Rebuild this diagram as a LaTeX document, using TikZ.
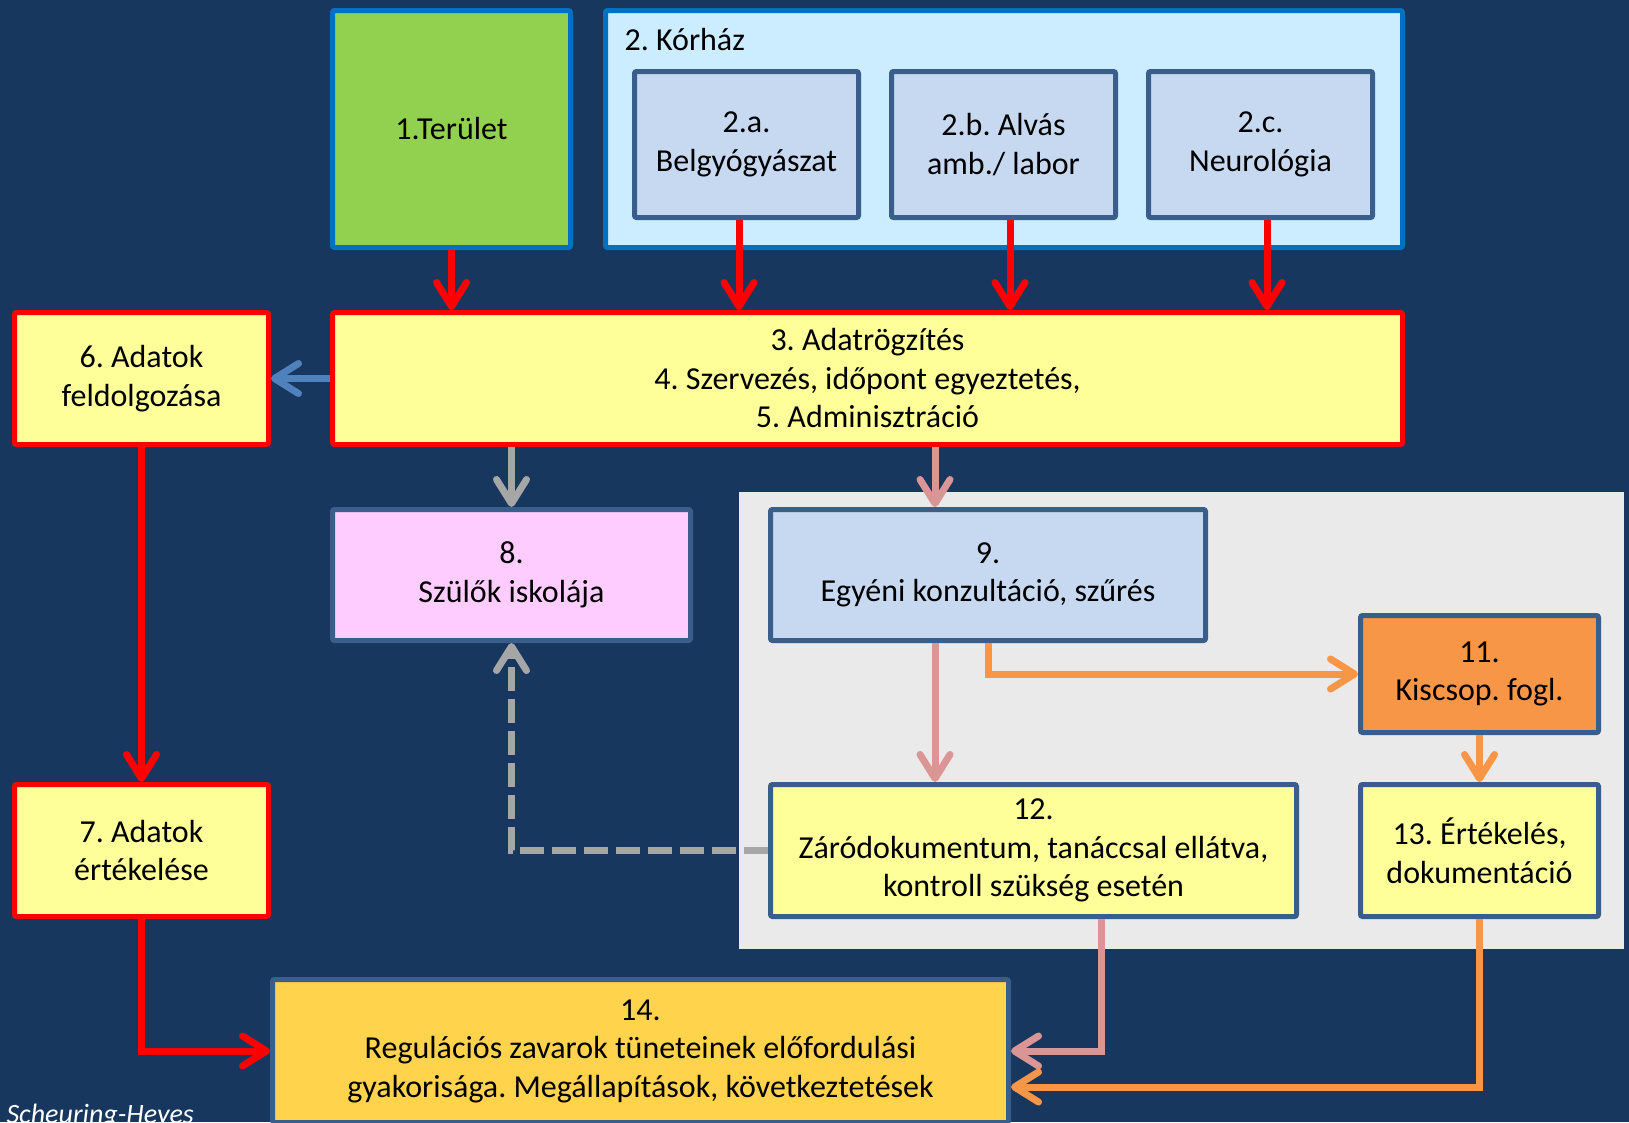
\documentclass[tikz,border=0pt]{standalone}
\usepackage{fontspec}
\setmainfont{Carlito}
\usetikzlibrary{arrows.meta}
\frenchspacing
\definecolor{bg}{HTML}{17375E}
\definecolor{cgreen}{HTML}{92D050}
\definecolor{cblueb}{HTML}{0070C0}
\definecolor{clight}{HTML}{CCECFF}
\definecolor{csub}{HTML}{C6D9F1}
\definecolor{cdark}{HTML}{3A5E8C}
\definecolor{cyellow}{HTML}{FFFF99}
\definecolor{cred}{HTML}{FF0000}
\definecolor{cpink}{HTML}{FFCCFF}
\definecolor{cpanel}{HTML}{EAEAEA}
\definecolor{corange}{HTML}{F79646}
\definecolor{cgold}{HTML}{FFD34B}
\definecolor{carrblue}{HTML}{4F81BD}
\definecolor{cgray}{HTML}{A6A6A6}
\definecolor{crose}{HTML}{D99694}
\tikzset{
  box/.style={rectangle, rounded corners=2pt, line width=5pt, align=center, inner sep=0pt, text=black},
  arr/.style={line width=7pt, -{Straight Barb[length=24pt,width=30pt,round]}},
  redarr/.style={arr, draw=cred},
  bluearr/.style={arr, draw=carrblue},
  grayarr/.style={arr, draw=cgray},
  rosearr/.style={arr, draw=crose},
  orarr/.style={arr, draw=corange},
}
\begin{document}
\begin{tikzpicture}[x=1pt,y=-1pt, font=\fontsize{32}{38.5}\selectfont\frenchspacing]
\useasboundingbox (0,0) rectangle (1629,1122);
\clip (0,0) rectangle (1629,1122);
\fill[bg] (0,0) rectangle (1629,1122);
\fill[cpanel] (739,492) rectangle (1624,949);

% boxes
\node[box, fill=cgreen, draw=cblueb, minimum width=238pt, minimum height=237pt] (n1) at (451.5,129) {1.Terület};
\node[box, fill=clight, draw=cblueb, minimum width=797pt, minimum height=237pt] (n2) at (1004,129) {};
\node[anchor=west, text=black] (n2t) at (621,40) {2. Kórház};
\node[box, fill=csub, draw=cdark, minimum width=224pt, minimum height=146pt] (n2a) at (746.5,144.5) {2.a.\\Belgyógyászat};
\node[box, fill=csub, draw=cdark, minimum width=224pt, minimum height=146pt] (n2b) at (1003.5,144.5) {2.b. Alvás\\amb./ labor};
\node[box, fill=csub, draw=cdark, minimum width=224pt, minimum height=146pt] (n2c) at (1260.5,144.5) {2.c.\\Neurológia};
\node[box, fill=cyellow, draw=cred, minimum width=1070pt, minimum height=132pt] (n3) at (867.5,378.5) {3. Adatrögzítés\\4. Szervezés, időpont egyeztetés,\\5. Adminisztráció};
\node[box, fill=cyellow, draw=cred, minimum width=254pt, minimum height=132pt] (n6) at (141.5,378.5) {6. Adatok\\feldolgozása};
\node[box, fill=cpink, draw=cdark, minimum width=358pt, minimum height=131pt] (n8) at (511.5,575) {8.\\Szülők iskolája};
\node[box, fill=csub, draw=cdark, minimum width=435pt, minimum height=131pt] (n9) at (988,575) {9.\\Egyéni konzultáció, szűrés};
\node[box, fill=corange, draw=cdark, minimum width=238pt, minimum height=117pt] (n11) at (1479.5,674) {11.\\Kiscsop. fogl.};
\node[box, fill=cyellow, draw=cdark, minimum width=526pt, minimum height=132pt] (n12) at (1033.5,850.5) {12.\\Záródokumentum, tanáccsal ellátva,\\kontroll szükség esetén};
\node[box, fill=cyellow, draw=cdark, minimum width=238pt, minimum height=132pt] (n13) at (1479.5,850.5) {13. Értékelés,\\dokumentáció};
\node[box, fill=cyellow, draw=cred, minimum width=254pt, minimum height=132pt] (n7) at (141.5,850.5) {7. Adatok\\értékelése};
\node[box, fill=cgold, draw=cdark, minimum width=736pt, minimum height=143pt] (n14) at (640.5,1051) {14.\\Regulációs zavarok tüneteinek előfordulási\\gyakorisága. Megállapítások, következtetések};
\node[anchor=base west, text=white, font=\fontsize{28}{34}\selectfont\itshape] (sig) at (3,1123) {Scheuring-Heyes};

% helper coordinates
\coordinate (xa) at (739,0);
\coordinate (xb) at (1010,0);
\coordinate (xc) at (1267,0);
\coordinate (x9) at (935,0);
\coordinate (x12) at (1101,0);
\coordinate (y13) at (0,1087);

% connectors
\draw[redarr] (n1.south) -- (n1.south |- n3.north);
\draw[redarr] (n2a.south -| xa) -- (n3.north -| xa);
\draw[redarr] (n2b.south -| xb) -- (n3.north -| xb);
\draw[redarr] (n2c.south -| xc) -- (n3.north -| xc);
\draw[bluearr] (n3.west) -- (n6.east);
\draw[grayarr] (n3.south -| n8) -- (n8.north);
\draw[rosearr] (n3.south -| x9) -- (n9.north -| x9);
\draw[redarr] (n6.south) -- (n7.north);
\draw[rosearr] (n9.south -| x9) -- (n12.north -| x9);
\draw[orarr] (n9.south) |- (n11.west);
\draw[orarr] (n11.south) -- (n13.north);
\draw[grayarr, dash pattern=on 24pt off 8pt] (n12.west) -| (n8.south);
\draw[redarr] (n7.south) |- (n14.west);
\draw[rosearr] (n12.south -| x12) |- (n14.east);
\draw[orarr] (n13.south) |- (n14.east |- y13);
\end{tikzpicture}
\end{document}
